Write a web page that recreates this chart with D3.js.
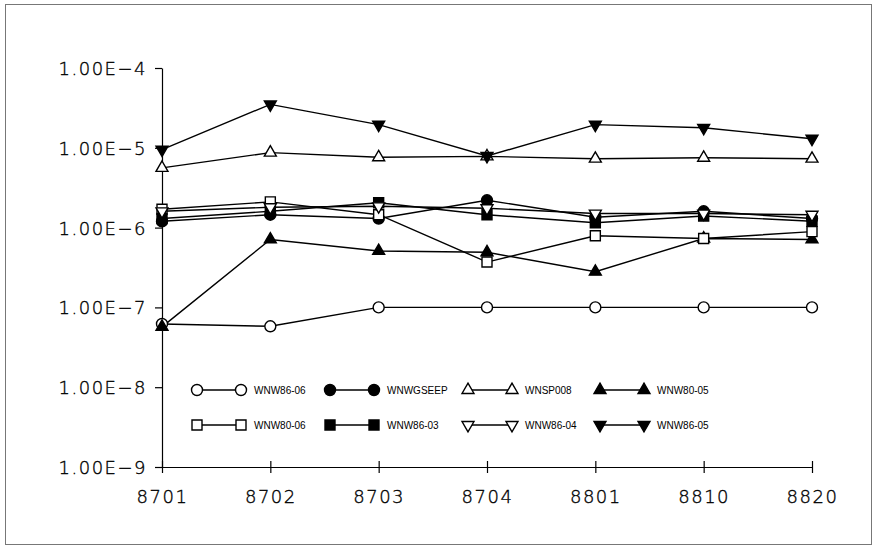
<!DOCTYPE html>
<html>
<head>
<meta charset="utf-8">
<script src="https://cdn.jsdelivr.net/npm/d3@7"></script>
<style>
  body { margin: 0; background: #fff; }
  svg { display: block; }
  .axis text { font-family: "DejaVu Sans", sans-serif; font-weight: 200; font-size: 18px; fill: #000; stroke: #000; stroke-width: 0.35px; letter-spacing: 1.5px; }
  .axis path, .axis line { stroke: #000; stroke-width: 1.2; }
  .legend text { font-family: "Liberation Sans", Arial, sans-serif; font-size: 10px; fill: #000; }
</style>
</head>
<body>
<div id="chart"></div>
<script>
var categories = ["8701", "8702", "8703", "8704", "8801", "8810", "8820"];
var yTicks = [1e-9, 1e-8, 1e-7, 1e-6, 1e-5, 1e-4];
var yTickLabels = ["1.00E\u22129", "1.00E\u22128", "1.00E\u22127", "1.00E\u22126", "1.00E\u22125", "1.00E\u22124"];

var seriesNames = ["WNW86-06", "WNWGSEEP", "WNSP008", "WNW80-05", "WNW80-06", "WNW86-03", "WNW86-04", "WNW86-05"];
var wnw86_06 = [6.2e-8, 5.8e-8, 1.0e-7, 1.0e-7, 1.0e-7, 1.0e-7, 1.0e-7];
var wnwgseep = [1.2e-6, 1.45e-6, 1.3e-6, 2.2e-6, 1.35e-6, 1.6e-6, 1.3e-6];
var wnsp008 = [5.6e-6, 8.7e-6, 7.6e-6, 7.8e-6, 7.3e-6, 7.5e-6, 7.3e-6];
var wnw80_05 = [5.7e-8, 7.1e-7, 5.1e-7, 4.9e-7, 2.8e-7, 7.3e-7, 7.1e-7];
var wnw80_06 = [1.7e-6, 2.1e-6, 1.45e-6, 3.7e-7, 7.9e-7, 7.3e-7, 8.9e-7];
var wnw86_03 = [1.3e-6, 1.6e-6, 2.05e-6, 1.45e-6, 1.15e-6, 1.4e-6, 1.2e-6];
var wnw86_04 = [1.6e-6, 1.8e-6, 1.85e-6, 1.75e-6, 1.5e-6, 1.5e-6, 1.45e-6];
var wnw86_05 = [9.5e-6, 3.5e-5, 1.95e-5, 7.9e-6, 1.95e-5, 1.78e-5, 1.3e-5];

var width = 878, height = 552;

// marker style per series: shape, filled, rotated
var markers = [
    {shape: d3.symbolCircle, size: 95, fill: false, rot: 0},
    {shape: d3.symbolCircle, size: 95, fill: true, rot: 0},
    {shape: d3.symbolTriangle, size: 62, fill: false, rot: 0},
    {shape: d3.symbolTriangle, size: 62, fill: true, rot: 0},
    {shape: d3.symbolSquare, size: 100, fill: false, rot: 0},
    {shape: d3.symbolSquare, size: 100, fill: true, rot: 0},
    {shape: d3.symbolTriangle, size: 62, fill: false, rot: 180},
    {shape: d3.symbolTriangle, size: 62, fill: true, rot: 180}
];
var allSeries = [wnw86_06, wnwgseep, wnsp008, wnw80_05, wnw80_06, wnw86_03, wnw86_04, wnw86_05];

var svg = d3.select("#chart").append("svg")
    .attr("width", width)
    .attr("height", height);

// outer frame
svg.append("rect")
    .attr("x", 5.5).attr("y", 4.5)
    .attr("width", 866).attr("height", 540)
    .attr("fill", "none")
    .attr("stroke", "#777")
    .attr("stroke-width", 1);

var x = d3.scalePoint().domain(categories).range([162, 812]);
var y = d3.scaleLog().domain([1e-9, 1e-4]).range([467, 68]);

var yAxis = d3.axisLeft(y)
    .tickValues(yTicks)
    .tickFormat(function(d, i) { return yTickLabels[i]; })
    .tickSizeInner(7)
    .tickSizeOuter(0)
    .tickPadding(8);

svg.append("g")
    .attr("class", "axis")
    .attr("transform", "translate(" + x(categories[0]) + ",0)")
    .call(yAxis)
    .selectAll("text").attr("dy", "0.36em");

var xAxis = d3.axisBottom(x)
    .tickSizeInner(6)
    .tickSizeOuter(0)
    .tickPadding(14);

var gx = svg.append("g")
    .attr("class", "axis")
    .attr("transform", "translate(0," + y(1e-9) + ")")
    .call(xAxis);
gx.selectAll(".tick line").attr("y1", -6);
gx.selectAll("text").attr("dy", "0.9em");

var line = d3.line()
    .x(function(d, i) { return x(categories[i]); })
    .y(function(d) { return y(d); });

function symbolPath(m) {
    return d3.symbol().type(m.shape).size(m.size)();
}

allSeries.forEach(function(vals, s) {
    svg.append("path")
        .datum(vals)
        .attr("fill", "none")
        .attr("stroke", "#000")
        .attr("stroke-width", 1.4)
        .attr("d", line);
});

allSeries.forEach(function(vals, s) {
    var m = markers[s];
    svg.append("g").selectAll("path")
        .data(vals)
        .enter().append("path")
        .attr("d", symbolPath(m))
        .attr("transform", function(d, i) {
            return "translate(" + x(categories[i]) + "," + y(d) + ") rotate(" + m.rot + ")";
        })
        .attr("fill", m.fill ? "#000" : "#fff")
        .attr("stroke", "#000")
        .attr("stroke-width", 1.4);
});

// legend, two rows of four
var legendCols = [197, 330, 468, 600];
var legendRows = [390, 425];
var lg = svg.append("g").attr("class", "legend");
seriesNames.forEach(function(name, s) {
    var m = markers[s];
    var lx = legendCols[s % 4], ly = legendRows[Math.floor(s / 4)];
    lg.append("line")
        .attr("x1", lx).attr("x2", lx + 44)
        .attr("y1", ly).attr("y2", ly)
        .attr("stroke", "#000").attr("stroke-width", 1.4);
    [lx, lx + 44].forEach(function(px) {
        lg.append("path")
            .attr("d", symbolPath(m))
            .attr("transform", "translate(" + px + "," + ly + ") rotate(" + m.rot + ")")
            .attr("fill", m.fill ? "#000" : "#fff")
            .attr("stroke", "#000")
            .attr("stroke-width", 1.4);
    });
    lg.append("text")
        .attr("x", lx + 57)
        .attr("y", ly)
        .attr("dy", "0.35em")
        .text(name);
});
</script>
</body>
</html>
